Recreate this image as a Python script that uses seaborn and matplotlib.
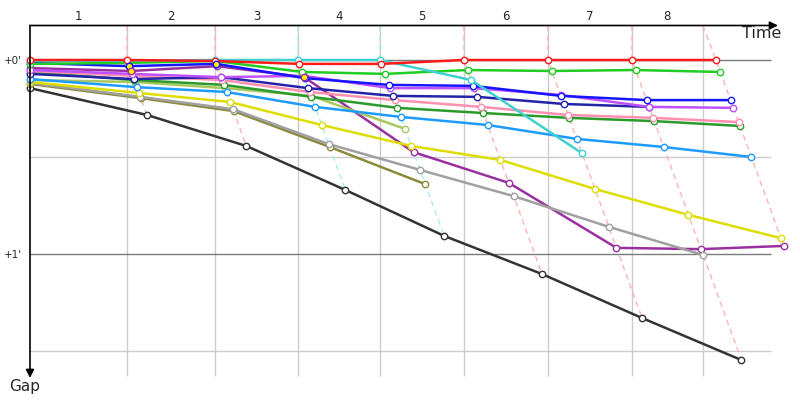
import numpy as np
import pandas as pd
import seaborn as sns
import matplotlib.pyplot as plt

# leader crossing time (s) after each lap, lap 0 = start
lap_times = [0, 82.2, 156.8, 227.1, 296.6, 367.8, 439.0, 510.2, 581.4]
# reference lines drawn for laps 1..8
grid_times = [82.2, 156.8, 227.1, 296.6, 367.8, 439.0, 510.2, 570.3]
lap_labels = ['1', '2', '3', '4', '5', '6', '7', '8']
lap_line_colors = ['#ffb3b3', '#ffb3b3', '#a8ecef', '#a8ecef',
                   '#ffb3b3', '#ffb3b3', '#ffb3b3', '#ffb3b3']

# gap to leader (s) at the end of each lap, index 0 = start
gap_red = [0, 0, 0.3, 1.2, 1.2, 0, 0, 0, 0]
gap_cyan = [0.3, 0.2, 0, 0, 0, 6.2, 28.8]
gap_lime = [1.2, 0.9, 0.3, 3.7, 4.3, 3.1, 3.4, 3.1, 3.7]
gap_blue = [0.9, 1.9, 1.2, 5.6, 7.7, 8.0, 11.1, 12.4, 12.4]
gap_violet = [3.1, 4.3, 5.3, 4.9, 8.7, 8.7, 10.8, 14.5, 14.8]
gap_navy = [4.3, 5.9, 5.3, 8.7, 11.1, 11.4, 13.6, 14.5]
gap_pink = [3.4, 4.9, 6.2, 9.9, 12.4, 14.5, 17.0, 17.9, 19.2]
gap_green = [3.7, 6.2, 7.7, 11.4, 14.8, 16.4, 17.9, 18.9, 20.4]
gap_sky = [5.9, 8.4, 9.9, 14.5, 17.6, 20.1, 24.4, 26.9, 30.0]
gap_lightolive = [6.2, 6.8, 8.7, 11.1, 21.3]
gap_yellow = [6.8, 10.2, 13.0, 20.1, 26.6, 30.9, 39.9, 47.9, 55.1]
gap_gray = [7.1, 11.4, 15.2, 26.0, 34.0, 42.1, 51.6, 60.3]
gap_olive = [7.4, 11.8, 15.8, 26.9, 38.4]
gap_purple = [2.5, 3.4, 1.9, 5.3, 28.5, 38.0, 58.1, 58.5, 57.5]
gap_black = [8.7, 17.0, 26.6, 40.2, 54.4, 66.2, 79.8, 92.8]

drivers = ['red', 'cyan', 'lime', 'blue', 'violet', 'navy', 'pink', 'green',
           'sky', 'lightolive', 'yellow', 'gray', 'olive', 'purple', 'black']
driver_gaps = [gap_red, gap_cyan, gap_lime, gap_blue, gap_violet, gap_navy,
               gap_pink, gap_green, gap_sky, gap_lightolive, gap_yellow,
               gap_gray, gap_olive, gap_purple, gap_black]
driver_colors = ['#ff1a1a', '#40d0d0', '#22cc22', '#1515ff', '#c050ff',
                 '#2323a8', '#ff8fb0', '#2a9a2a', '#1e9bff', '#a8c860',
                 '#dddd00', '#a0a0a0', '#8a8a3a', '#9a30a0', '#333333']
# points drawn with a yellow fill
highlights = [('blue', 1), ('blue', 2), ('purple', 1), ('purple', 3)]

rows = []
for name, gaps in zip(drivers, driver_gaps):
    for lap, g in enumerate(gaps):
        t = 0 if lap == 0 else lap_times[lap] + g
        rows.append({'driver': name, 'lap': lap, 'time': t, 'gap': g})
df = pd.DataFrame(rows)

sns.set_style('white')
plt.rcParams['font.family'] = ['DejaVu Sans']

fig = plt.figure(figsize=(8, 4), dpi=100)
# plot area: x 30..778 px, y 25.5..378 px
ax = fig.add_axes([30 / 800, 22 / 400, 748 / 800, 352.5 / 400])

y_top, y_bot = -10.67, 98.35
x_max = 634
ax.set_xlim(0, x_max)
ax.set_ylim(y_bot, y_top)

# grid
ax.vlines(grid_times, y_top, 97.7, color='#cccccc', lw=1, zorder=0)
ax.hlines([30, 90], 0, 628, color='#cccccc', lw=1, zorder=0)
ax.hlines([0, 60], 0, 628, color='#7a7a7a', lw=1, zorder=0)

# lap lines joining every driver's crossing of the same lap
for k in range(1, len(lap_times)):
    sub = df[df['lap'] == k].sort_values('gap')
    xs = [grid_times[k - 1]] + sub['time'].tolist()
    ys = [y_top] + sub['gap'].tolist()
    ax.plot(xs, ys, ls=(0, (4, 3)), color=lap_line_colors[k - 1], lw=1,
            zorder=1, clip_on=False)

for name, color in reversed(list(zip(drivers, driver_colors))):
    d = df[df['driver'] == name]
    sns.lineplot(data=d, x='time', y='gap', ax=ax, color=color, lw=1.8,
                 marker='o', markersize=4.6, markerfacecolor='white',
                 markeredgecolor=color, markeredgewidth=1, sort=False,
                 errorbar=None, zorder=3, clip_on=False)

for name, lap in highlights:
    p = df[(df['driver'] == name) & (df['lap'] == lap)]
    c = driver_colors[drivers.index(name)]
    ax.scatter(p['time'], p['gap'], s=22, facecolor='#ffee00', edgecolor=c,
               lw=1, zorder=4)

# axes styling
for s in ax.spines.values():
    s.set_visible(False)
ax.set_xlabel('')
ax.set_ylabel('')
mids = [(a + b) / 2 for a, b in zip([0] + grid_times[:-1], grid_times)]
ax.xaxis.tick_top()
ax.set_xticks(mids, lap_labels)
ax.set_yticks([0, 60], ["+0'", "+1'"])
ax.tick_params(axis='x', length=0, pad=1.5, labelsize=8.5)
ax.tick_params(axis='y', length=0, pad=6, labelsize=7.5)

ax.annotate('', xy=(1, 1), xytext=(0, 1), xycoords='axes fraction',
            arrowprops=dict(arrowstyle='-|>', color='black', lw=1.2,
                            mutation_scale=12, shrinkA=0, shrinkB=0))
ax.annotate('', xy=(0, 0), xytext=(0, 1), xycoords='axes fraction',
            arrowprops=dict(arrowstyle='-|>', color='black', lw=1.2,
                            mutation_scale=12, shrinkA=0, shrinkB=0))
fig.text(762 / 800, 1 - 34 / 400, 'Time', ha='center', va='center', fontsize=11.5)
fig.text(25 / 800, 1 - 386 / 400, 'Gap', ha='center', va='center', fontsize=11)

fig.savefig('out.png', dpi=100)
